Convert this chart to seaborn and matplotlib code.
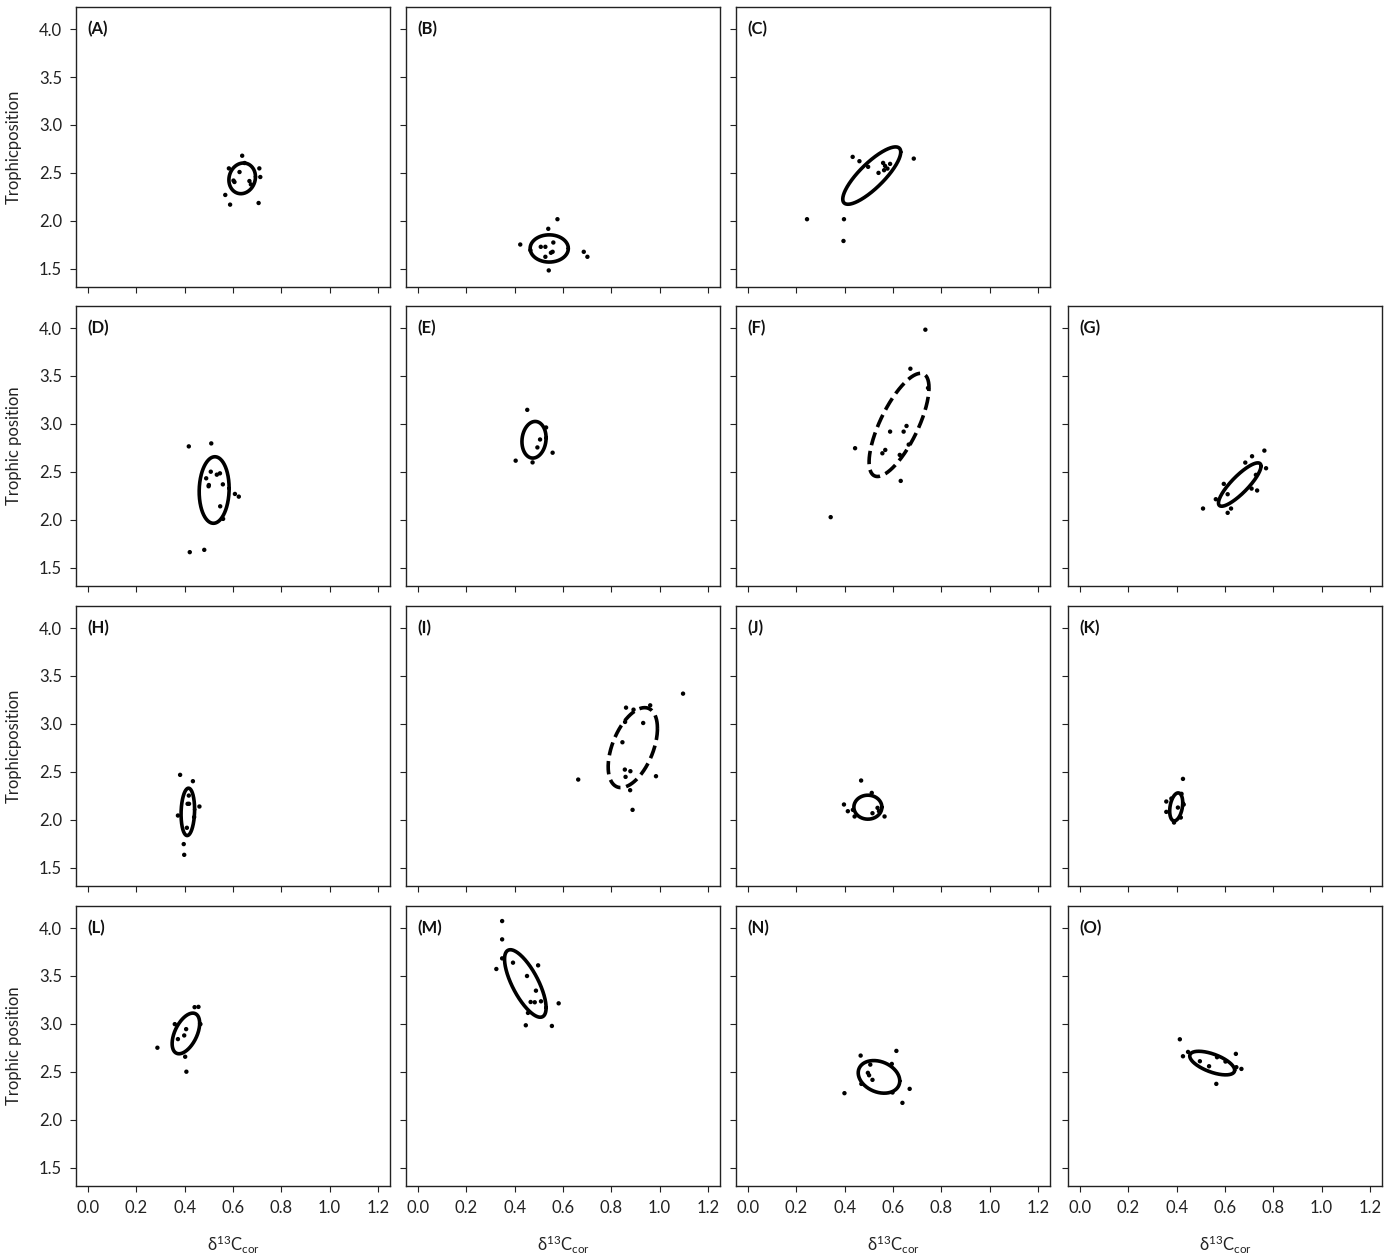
import numpy as np
import matplotlib
matplotlib.use("Agg")
import matplotlib.pyplot as plt
import seaborn as sns

# points per panel (delta13C_cor, trophic position)
A_x = [0.638, 0.583, 0.709, 0.713, 0.627, 0.648, 0.606, 0.602, 0.668, 0.674, 0.568, 0.588, 0.706]
A_y = [2.679, 2.547, 2.547, 2.457, 2.509, 2.603, 2.405, 2.420, 2.415, 2.380, 2.270, 2.169, 2.186]
B_x = [0.577, 0.539, 0.423, 0.508, 0.527, 0.560, 0.557, 0.550, 0.527, 0.465, 0.686, 0.701, 0.541]
B_y = [2.017, 1.917, 1.753, 1.729, 1.729, 1.774, 1.677, 1.667, 1.625, 1.694, 1.677, 1.625, 1.483]
C_x = [0.244, 0.397, 0.395, 0.433, 0.461, 0.497, 0.540, 0.559, 0.567, 0.577, 0.588, 0.563, 0.686]
C_y = [2.017, 2.017, 1.790, 2.667, 2.622, 2.563, 2.500, 2.604, 2.573, 2.545, 2.594, 2.528, 2.649]
D_x = [0.417, 0.510, 0.508, 0.489, 0.500, 0.499, 0.533, 0.546, 0.558, 0.547, 0.559, 0.608, 0.624, 0.421, 0.481]
D_y = [2.766, 2.797, 2.502, 2.433, 2.363, 2.350, 2.471, 2.485, 2.370, 2.141, 2.010, 2.270, 2.242, 1.663, 1.687]
E_x = [0.452, 0.530, 0.505, 0.494, 0.557, 0.404, 0.474]
E_y = [3.147, 2.963, 2.838, 2.755, 2.700, 2.617, 2.599]
F_x = [0.734, 0.672, 0.745, 0.588, 0.644, 0.656, 0.665, 0.568, 0.556, 0.443, 0.628, 0.632, 0.342]
F_y = [3.983, 3.576, 3.375, 2.920, 2.920, 2.979, 2.785, 2.729, 2.694, 2.747, 2.677, 2.406, 2.028]
G_x = [0.763, 0.712, 0.684, 0.770, 0.728, 0.710, 0.733, 0.611, 0.595, 0.562, 0.509, 0.625, 0.611]
G_y = [2.722, 2.663, 2.597, 2.538, 2.469, 2.326, 2.306, 2.267, 2.375, 2.215, 2.118, 2.118, 2.073]
H_x = [0.381, 0.434, 0.412, 0.418, 0.461, 0.372, 0.439, 0.409, 0.396, 0.398, 0.417]
H_y = [2.469, 2.403, 2.167, 2.167, 2.139, 2.045, 2.028, 1.917, 1.747, 1.635, 2.253]
I_x = [1.097, 0.961, 0.861, 0.892, 0.932, 0.857, 0.846, 0.856, 0.879, 0.859, 0.985, 0.663, 0.878, 0.888]
I_y = [3.316, 3.194, 3.170, 3.149, 3.010, 3.021, 2.809, 2.524, 2.507, 2.448, 2.455, 2.420, 2.309, 2.104]
J_x = [0.468, 0.512, 0.397, 0.413, 0.441, 0.434, 0.515, 0.536, 0.565, 0.542]
J_y = [2.410, 2.281, 2.160, 2.090, 2.035, 2.104, 2.069, 2.125, 2.035, 2.090]
K_x = [0.426, 0.420, 0.357, 0.429, 0.405, 0.357, 0.417, 0.389, 0.378]
K_y = [2.427, 2.271, 2.191, 2.160, 2.128, 2.083, 2.024, 1.972, 2.222]
L_x = [0.287, 0.359, 0.406, 0.398, 0.372, 0.441, 0.457, 0.465, 0.402, 0.407]
L_y = [2.752, 2.998, 2.946, 2.880, 2.842, 3.175, 3.178, 2.998, 2.658, 2.502]
M_x = [0.348, 0.348, 0.348, 0.324, 0.393, 0.497, 0.451, 0.488, 0.466, 0.483, 0.509, 0.582, 0.455, 0.446, 0.554]
M_y = [4.073, 3.882, 3.684, 3.573, 3.639, 3.611, 3.500, 3.347, 3.229, 3.226, 3.236, 3.215, 3.115, 2.986, 2.979]
N_x = [0.466, 0.614, 0.506, 0.595, 0.496, 0.501, 0.515, 0.469, 0.669, 0.598, 0.399, 0.639]
N_y = [2.670, 2.719, 2.576, 2.583, 2.490, 2.465, 2.417, 2.375, 2.323, 2.285, 2.278, 2.177]
O_x = [0.413, 0.447, 0.426, 0.496, 0.567, 0.534, 0.602, 0.645, 0.647, 0.668, 0.564]
O_y = [2.840, 2.708, 2.663, 2.611, 2.653, 2.559, 2.608, 2.688, 2.549, 2.531, 2.375]

panels = ["A", "B", "C", "D", "E", "F", "G", "H", "I", "J", "K", "L", "M", "N", "O"]
points = {"A": (A_x, A_y), "B": (B_x, B_y), "C": (C_x, C_y), "D": (D_x, D_y),
          "E": (E_x, E_y), "F": (F_x, F_y), "G": (G_x, G_y), "H": (H_x, H_y),
          "I": (I_x, I_y), "J": (J_x, J_y), "K": (K_x, K_y), "L": (L_x, L_y),
          "M": (M_x, M_y), "N": (N_x, N_y), "O": (O_x, O_y)}

# standard ellipse: centre, sd of x, sd of y, correlation
ell_cx = [0.638, 0.543, 0.512, 0.522, 0.480, 0.625, 0.661, 0.413, 0.889, 0.496, 0.398, 0.405, 0.444, 0.542, 0.547]
ell_cy = [2.443, 1.712, 2.472, 2.311, 2.835, 2.990, 2.368, 2.083, 2.753, 2.132, 2.135, 2.901, 3.422, 2.448, 2.592]
ell_sx = [0.055, 0.079, 0.120, 0.062, 0.050, 0.124, 0.088, 0.028, 0.102, 0.058, 0.027, 0.057, 0.086, 0.086, 0.093]
ell_sy = [0.160, 0.142, 0.299, 0.347, 0.191, 0.538, 0.226, 0.247, 0.417, 0.125, 0.146, 0.212, 0.352, 0.170, 0.123]
ell_r = [0.10, 0.0, 0.82, 0.05, 0.10, 0.72, 0.85, 0.10, 0.48, 0.0, 0.30, 0.50, -0.72, -0.25, -0.60]
dashed = ["F", "I"]

# grid slot of each panel (row, col)
slots = {"A": (0, 0), "B": (0, 1), "C": (0, 2),
         "D": (1, 0), "E": (1, 1), "F": (1, 2), "G": (1, 3),
         "H": (2, 0), "I": (2, 1), "J": (2, 2), "K": (2, 3),
         "L": (3, 0), "M": (3, 1), "N": (3, 2), "O": (3, 3)}
ylabels = {"A": "Trophicposition", "D": "Trophic position",
           "H": "Trophicposition", "L": "Trophic position"}

sns.set_theme(style="ticks")
plt.rcParams["font.family"] = ["Lato", "DejaVu Sans"]
plt.rcParams["mathtext.fontset"] = "custom"
plt.rcParams["mathtext.rm"] = "Lato"
plt.rcParams["mathtext.it"] = "Lato:italic"

W, H = 1390, 1259
fig = plt.figure(figsize=(W / 100, H / 100), dpi=100)
col_left = [76, 406, 736, 1068]
row_top = [7, 306, 606, 906]
pw, ph = 314, 280

t = np.linspace(0, 2 * np.pi, 300)
for i, p in enumerate(panels):
    r, c = slots[p]
    ax = fig.add_axes([col_left[c] / W, 1 - (row_top[r] + ph) / H, pw / W, ph / H])
    xs, ys = points[p]
    sns.scatterplot(x=xs, y=ys, ax=ax, color="black", s=10, edgecolor="none")
    ex = ell_cx[i] + ell_sx[i] * np.cos(t)
    ey = ell_cy[i] + ell_sy[i] * (ell_r[i] * np.cos(t) + np.sqrt(1 - ell_r[i] ** 2) * np.sin(t))
    ls = "--" if p in dashed else "-"
    ax.plot(ex, ey, color="black", lw=2.6, ls=ls)

    ax.set_xlim(-0.05, 1.25)
    ax.set_ylim(1.31, 4.23)
    ax.set_xticks([0.0, 0.2, 0.4, 0.6, 0.8, 1.0, 1.2])
    ax.set_yticks([1.5, 2.0, 2.5, 3.0, 3.5, 4.0])
    ax.tick_params(direction="out", length=4, width=0.8, color="#222222",
                   labelsize=12, pad=6, labelcolor="#222222")
    for s in ax.spines.values():
        s.set_linewidth(1.0)
        s.set_color("#222222")
    if c == 0:
        ax.set_yticklabels(["1.5", "2.0", "2.5", "3.0", "3.5", "4.0"])
        ax.set_ylabel(ylabels[p], fontsize=12, color="#222222")
        ax.yaxis.set_label_coords(-54 / pw, 0.5)
    else:
        ax.set_yticklabels([])
    if r == 3:
        ax.set_xticklabels(["0.0", "0.2", "0.4", "0.6", "0.8", "1.0", "1.2"])
        ax.set_xlabel(r"δ$^{13}$C$_{\mathrm{cor}}$", fontsize=12, color="#222222")
        ax.xaxis.set_label_coords(0.5, -0.17)
    else:
        ax.set_xticklabels([])
    ax.text(0.036, 0.92, f"({p})", transform=ax.transAxes, fontsize=12,
            fontweight="bold", va="center", ha="left", color="#111111")

fig.savefig("out.png", dpi=100)
